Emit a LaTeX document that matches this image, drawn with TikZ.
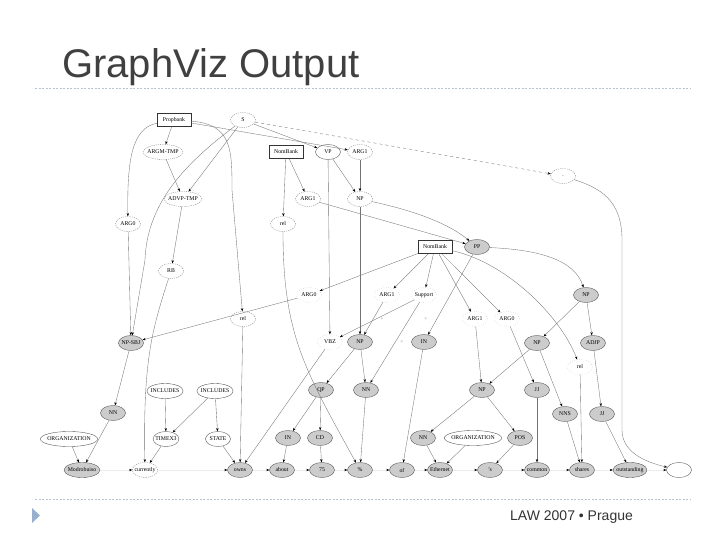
\documentclass[tikz,border=0pt]{standalone}
\usepackage{fontspec}
\setmainfont{Liberation Serif}
\newfontfamily\slidefont{Liberation Sans}
\usetikzlibrary{shapes.geometric,arrows.meta}
\definecolor{rulegray}{RGB}{185,195,205}
\definecolor{bulletblue}{RGB}{150,176,206}
\tikzset{
  every node/.style={font=\fontsize{5.8}{7}\selectfont},
  tree/.style={ellipse, draw=black!70, line width=0.35pt, inner xsep=-1.5pt, inner ysep=0.5pt, minimum height=15pt, minimum width=25pt},
  tag/.style={tree, fill=black!20},
  ann/.style={tree, fill=white},
  dashann/.style={tree, dashed, dash pattern=on 1.2pt off 1pt, draw=black!50},
  dotann/.style={tree, dotted, draw=black!40},
  bank/.style={rectangle, draw=black!80, line width=0.4pt, fill=white, minimum width=34pt, minimum height=13pt, inner sep=1pt},
  link/.style={draw=black!55, line width=0.35pt, -{Stealth[length=3.2pt,width=2.4pt,color=black]}},
  chain/.style={draw=black!8, line width=0.3pt, -{Stealth[length=3pt,width=2.4pt,color=black]}},
}

\begin{document}
\begin{tikzpicture}[x=1pt,y=-1pt]
    \useasboundingbox (0,0) rectangle (720,540);
    % slide frame
    \node[anchor=base west, inner sep=0, font=\slidefont\fontsize{40}{40}\selectfont, text=black!75] (title) at (62,78) {GraphViz Output};
    \draw[rulegray, dash pattern=on 2pt off 1.5pt] (35,88) -- (690,88);
    \draw[rulegray, dash pattern=on 2pt off 1.5pt] (35,499) -- (690,499);
    \fill[bulletblue] (32,508) -- (40,515.5) -- (32,523) -- cycle;
    \node[anchor=base west, inner sep=0, font=\slidefont\fontsize{14}{14}\selectfont, text=black!80] (foot) at (510,520) {LAW 2007 • Prague};

    % upper part
    \node[bank] (pb) at (174,120) {Propbank};
    \node[dashann] (S) at (243,120) {S};
    \node[dashann] (tmp) at (163,152) {ARGM-TMP};
    \node[bank] (nb1) at (286,152) {NomBank};
    \node[ann] (vp) at (328,152) {VP};
    \node[dashann] (pa1) at (360,152) {ARG1};
    \node[dashann] (stop) at (563,176) {.};
    \node[dashann] (advp) at (183,199) {ADVP-TMP};
    \node[dashann] (na1) at (308,199) {ARG1};
    \node[dashann] (np0) at (360,199) {NP};
    \node[dashann] (pa0) at (128,224) {ARG0};
    \node[dashann] (rel1) at (283,224) {rel};
    \node[bank] (nb2) at (435,247) {NomBank};
    \node[tag] (pp) at (477,247) {PP};
    \node[dashann] (rb) at (171,271) {RB};

    % middle part
    \node[dotann] (na0) at (309,295) {ARG0};
    \node[dotann] (sa1) at (387,295) {ARG1};
    \node[dotann] (sup) at (424,295) {Support};
    \node[tag] (npr) at (586,295) {NP};
    \node[dashann] (rel0) at (243,319) {rel};
    \node[dotann] (sb1) at (475,319) {ARG1};
    \node[dotann] (sb0) at (507,319) {ARG0};
    \node[text=black!40] (pl1) at (382,319) {+};
    \node[text=black!40] (pl2) at (426,319) {+};
    \node[text=black!40] (pl3) at (402,342) {+};
    \node[tag] (npsbj) at (131,343) {NP-SBJ};
    \node[dotann] (vbz) at (330,342) {VBZ};
    \node[tag] (npm) at (360,342) {NP};
    \node[tag] (in1) at (424,342) {IN};
    \node[tag] (np2) at (537,343) {NP};
    \node[tag] (adjp) at (593,343) {ADJP};
    \node[dotann] (rel2) at (580,367) {rel};

    % lower part
    \node[tag] (np3) at (482,390) {NP};
    \node[tag] (jj1) at (537,390) {JJ};
    \node[tag] (qp) at (321,390) {QP};
    \node[tag] (nn2) at (366,390) {NN};
    \node[ann] (inc1) at (165,391) {INCLUDES};
    \node[ann] (inc2) at (215,391) {INCLUDES};
    \node[tag] (nn1) at (113,413) {NN};
    \node[tag] (nns) at (565,414) {NNS};
    \node[tag] (jj2) at (602,414) {JJ};
    \node[ann] (org1) at (69,439) {ORGANIZATION};
    \node[ann] (timex) at (166,439) {TIMEX3};
    \node[ann] (state) at (218,439) {STATE};
    \node[tag] (in2) at (288,438) {IN};
    \node[tag] (cd) at (320,438) {CD};
    \node[tag] (nn3) at (423,438) {NN};
    \node[ann] (org2) at (473,438) {ORGANIZATION};
    \node[tag] (pos) at (520,438) {POS};

    % tokens
    \foreach \x/\nm/\kind/\txt in {82/w1/tag/Modrobuiso, 145/w2/dashann/currently, 240/w3/tag/owns,
        282/w4/tag/about, 322/w5/tag/75, 360/w6/tag/\%, 402/w7/tag/of, 440/w8/tag/Ethernet,
        490/w9/tag/'s, 537/w10/tag/common, 582/w11/tag/shares, 630/w12/tag/outstanding, 679/w13/ann/{}} {
      \node[\kind] (\nm) at (\x,470) {\txt};
    }
    \foreach \a/\b in {w1/w2,w2/w3,w3/w4,w4/w5,w5/w6,w6/w7,w7/w8,w8/w9,w9/w10,w10/w11,w11/w12,w12/w13} {
      \draw[chain] (\a) -- (\b);
    }

    % edges from the top
    \draw[link] (pb) -- (tmp);
    \draw[link] (pb) .. controls (132,128) and (127,160) .. (pa0);
    \draw[link] (pb) .. controls (232,124) and (232,150) .. (232,190) -- (rel0);
    \draw[link] (pb) -- (pa1);
    \draw[link] (S) -- (vp);
    \draw[link, dashed] (S) -- (stop);
    \draw[link] (S) -- (advp);
    \draw[link] (S) .. controls (190,160) and (147,200) .. (145,260) -- (npsbj);
    \draw[link] (tmp) -- (advp);
    \draw[link] (nb1) -- (rel1);
    \draw[link] (nb1) -- (na1);
    \draw[link] (pa1) -- (np0);
    \draw[link] (vp) -- (np0);
    \draw[link] (vp) -- (vbz);
    \draw[link] (np0) -- (npm);
    \draw[link] (np0) .. controls (420,212) and (450,225) .. (pp);
    \draw[link] (na1) -- (pp);
    \draw[link] (advp) -- (rb);
    \draw[link] (pa0) -- (npsbj);
    \draw[link] (rel1) .. controls (283,335) and (305,370) .. (w6);
    \draw[link] (stop) .. controls (600,188) and (622,200) .. (622,240) -- (622,430) .. controls (622,452) and (645,462) .. (w13);

    % edges in the middle
    \draw[link] (nb2) -- (na0);
    \draw[link] (nb2) -- (sa1);
    \draw[link] (nb2) -- (sup);
    \draw[link] (nb2) -- (sb1);
    \draw[link] (nb2) -- (sb0);
    \draw[link] (nb2) .. controls (505,262) and (560,315) .. (rel2);
    \draw[link] (pp) -- (in1);
    \draw[link] (pp) .. controls (545,250) and (575,262) .. (npr);
    \draw[link] (rb) .. controls (152,330) and (143,360) .. (w2);
    \draw[link] (na0) -- (npsbj);
    \draw[link] (sa1) -- (npm);
    \draw[link] (sup) -- (vbz);
    \draw[link] (sup) -- (nn2);
    \draw[link] (npr) -- (np2);
    \draw[link] (npr) -- (adjp);
    \draw[link] (rel0) -- (w3);
    \draw[link] (sb1) -- (np3);
    \draw[link] (sb0) -- (jj1);
    \draw[link] (npsbj) -- (nn1);
    \draw[link] (vbz) -- (w3);
    \draw[link] (npm) -- (qp);
    \draw[link] (npm) -- (nn2);
    \draw[link] (in1) -- (w7);
    \draw[link] (np2) -- (np3);
    \draw[link] (np2) -- (nns);
    \draw[link] (adjp) -- (jj2);
    \draw[link] (rel2) -- (w11);

    % edges at the bottom
    \draw[link] (np3) -- (nn3);
    \draw[link] (np3) -- (pos);
    \draw[link] (jj1) -- (w10);
    \draw[link] (qp) -- (in2);
    \draw[link] (qp) -- (cd);
    \draw[link] (nn2) -- (w6);
    \draw[link] (inc1) -- (timex);
    \draw[link] (inc2) -- (timex);
    \draw[link] (inc2) -- (state);
    \draw[link] (nn1) -- (w1);
    \draw[link] (nns) -- (w11);
    \draw[link] (jj2) -- (w12);
    \draw[link] (org1) -- (w1);
    \draw[link] (timex) -- (w2);
    \draw[link] (state) -- (w3);
    \draw[link] (in2) -- (w4);
    \draw[link] (cd) -- (w5);
    \draw[link] (nn3) -- (w8);
    \draw[link] (org2) -- (w8);
    \draw[link] (pos) -- (w9);
\end{tikzpicture}
\end{document}
